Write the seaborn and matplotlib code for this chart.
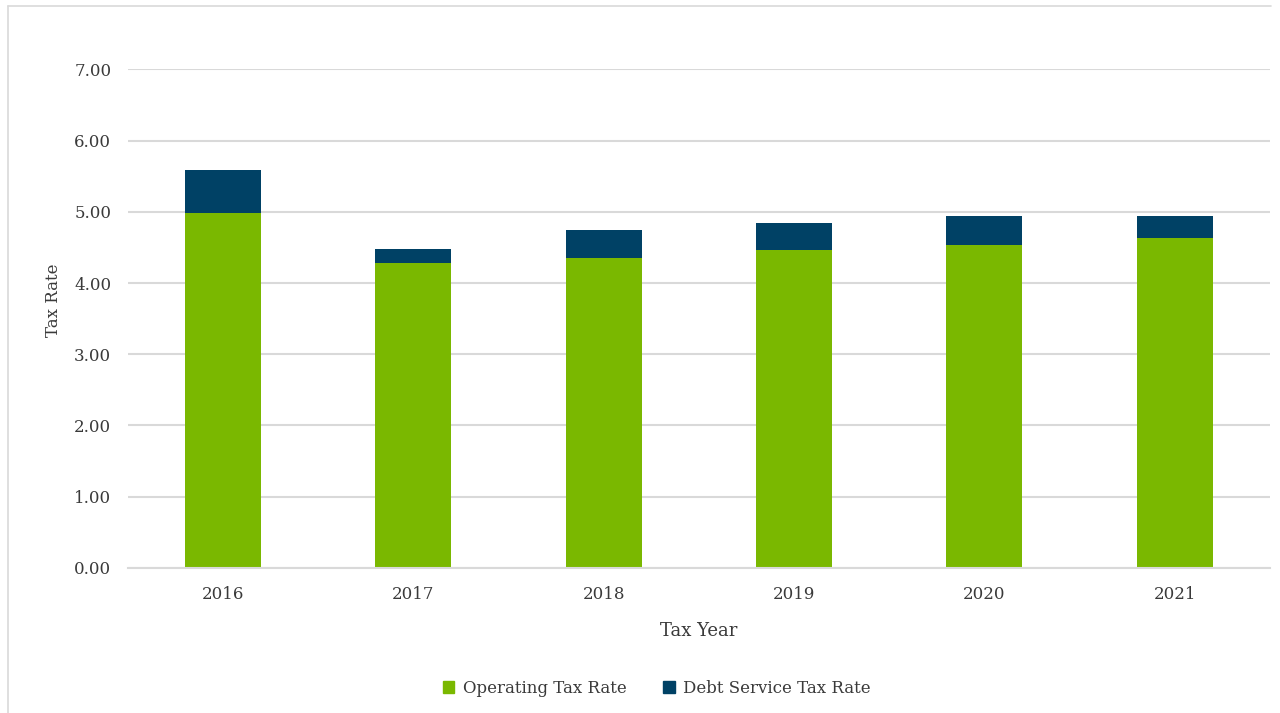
import matplotlib.pyplot as plt
import matplotlib.lines as mlines
import matplotlib.patches as mpatches
import pandas as pd
import seaborn as sns

years = ["2016", "2017", "2018", "2019", "2020", "2021"]
operating = [4.98, 4.28, 4.35, 4.46, 4.53, 4.63]
debt_service = [0.61, 0.20, 0.39, 0.38, 0.41, 0.31]

green = "#7AB800"
navy = "#004165"
text_col = "#3a3a3a"

df = pd.DataFrame({"Year": years, "Operating": operating, "Debt": debt_service})
df["Total"] = df["Operating"] + df["Debt"]

sns.set_style("white")
plt.rcParams["font.family"] = ["DejaVu Serif"]

fig = plt.figure(figsize=(12.8, 7.13), dpi=100)
ax = fig.add_axes([0.1, 0.2034, 0.892, 0.6994])

# stacked bars: total behind, operating in front
sns.barplot(data=df, x="Year", y="Total", color=navy, width=0.4, saturation=1, linewidth=0, ax=ax)
sns.barplot(data=df, x="Year", y="Operating", color=green, width=0.4, saturation=1, linewidth=0, ax=ax)

ax.set_ylim(0, 7)
ax.set_yticks(range(0, 8))
ax.set_yticklabels([f"{v:.2f}" for v in range(0, 8)], fontsize=12, color=text_col)
ax.set_xticks(range(len(years)))
ax.set_xticklabels(years, fontsize=12, color=text_col)
ax.tick_params(axis="y", length=0, pad=12)
ax.tick_params(axis="x", length=0, pad=13)
ax.grid(axis="y", color="#d9d9d9", linewidth=1.5)
ax.set_axisbelow(True)
for s in ["top", "right", "left"]:
    ax.spines[s].set_visible(False)
ax.spines["bottom"].set_color("#d9d9d9")
ax.spines["bottom"].set_linewidth(1.5)

ax.set_xlabel("Tax Year", fontsize=13, color=text_col)
ax.xaxis.set_label_coords(0.5, -0.108)
ax.set_ylabel("Tax Rate", fontsize=12, color=text_col)
ax.yaxis.set_label_coords(-0.058, 0.537)

handles = [
    mpatches.Patch(color=green, label="Operating Tax Rate"),
    mpatches.Patch(color=navy, label="Debt Service Tax Rate"),
]
fig.legend(handles=handles, loc="center", bbox_to_anchor=(0.513, 0.035), ncol=2,
           frameon=False, fontsize=12, handlelength=0.7, handleheight=0.7,
           handletextpad=0.5, columnspacing=2.2, labelcolor=text_col)

# light outer border
fig.add_artist(mlines.Line2D([8 / 1280, 8 / 1280], [0, 1 - 6 / 713], color="#d9d9d9", linewidth=1.2))
fig.add_artist(mlines.Line2D([8 / 1280, 1271 / 1280], [1 - 6 / 713, 1 - 6 / 713], color="#d9d9d9", linewidth=1.2))

fig.savefig("out.png", dpi=100)
